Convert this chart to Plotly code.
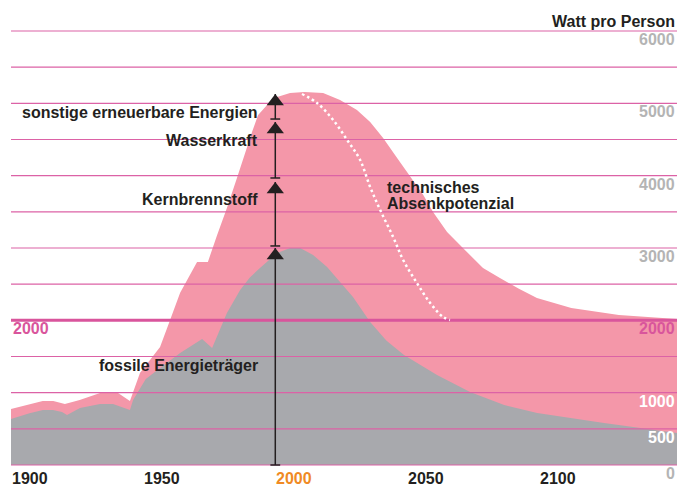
import plotly.graph_objects as go

# ---------------- data ----------------
total_years = [1893, 1905, 1909, 1913.4, 1919, 1921, 1926.7, 1933.5, 1938, 1941.8, 1949.4, 1953.2,
               1957, 1963.4, 1967.5, 1971.0, 1974.7, 1978.5, 1981.6, 1984.2, 1986.5, 1989.9,
               1993.7, 1998.6, 2004, 2011.1, 2017.5, 2023.9, 2028.9, 2033.8, 2039.1, 2044.1,
               2049.0, 2052.7, 2058.0, 2064.0, 2071.6, 2078.0, 2085, 2092, 2105, 2123, 2145]
total_values = [774, 885, 885, 843, 900, 926, 995, 995, 885, 1272, 1631, 2005,
                2380, 2807, 2807, 3180, 3553, 3968, 4327, 4604, 4839, 4977,
                5088, 5143, 5155, 5143, 5046, 4908, 4742, 4521, 4244, 3982,
                3733, 3498, 3221, 3000, 2723, 2585, 2440, 2309, 2170, 2074, 2018]

fossil_years = [1893, 1900, 1905.1, 1908.9, 1912.3, 1914.2, 1919.1, 1924, 1926.7, 1931.6, 1938,
                1939.2, 1944, 1949.4, 1957, 1965.3, 1969.1, 1974.7, 1979.7, 1983.3, 1987.2,
                1993.7, 1998.6, 2002.4, 2007.3, 2012.6, 2017.5, 2022.4, 2028.9, 2035, 2041.7,
                2054.2, 2066.7, 2079.6, 2092.1, 2117.4, 2145]
fossil_values = [636, 716, 760, 760, 733, 691, 788, 830, 843, 843, 760,
                 900, 1190, 1341, 1548, 1742, 1617, 2101, 2419, 2590, 2724,
                 2931, 3000, 3000, 2903, 2737, 2530, 2323, 1977, 1720, 1521,
                 1244, 1009, 830, 719, 581, 442]

potential_years = [2003.1, 2008.8, 2014.9, 2020.2, 2025.1, 2028.9, 2032.7, 2037.6, 2041.4,
                   2046.6, 2051.6, 2056.5, 2059.1]
potential_values = [5129, 5005, 4770, 4493, 4217, 3843, 3525, 3152, 2834,
                    2516, 2240, 2046, 2005]

arrow_year = 1993
arrow_labels = ["fossile Energieträger", "Kernbrennstoff", "Wasserkraft",
                "sonstige erneuerbare Energien"]
arrow_bottom = [0, 3028, 3968, 4783]
arrow_top = [3000, 3912, 4742, 5129]
arrow_label_values = [1369, 3677, 4493, 4880]

x_tick_years = [1900, 1950, 2000, 2050, 2100]
y_grid_values = [0, 500, 1000, 1500, 2000, 2500, 3000, 3500, 4000, 4500, 5000, 5500, 6000]
y_label_values = [6000, 5000, 4000, 3000, 2000, 1000, 500, 0]

# ---------------- styling ----------------
W, H = 677, 486
X_MIN, X_MAX = 1893, 2145
PX_PER_W = 434 / 6000.0
PAD_PX = 5
Y_MIN, Y_MAX = -PAD_PX / PX_PER_W, 6000 + PAD_PX / PX_PER_W

PINK = "#f497a9"
GRAY = "#a8a9ad"
GRID = "#dc62a6"
MAGENTA = "#d9559c"
DARK = "#231f20"
LABEL_GRAY = "#b4b4b4"
ORANGE = "#f08a24"
FONT = "Liberation Sans, Arial, sans-serif"

fig = go.Figure()

# areas
fig.add_trace(go.Scatter(x=total_years, y=total_values, mode="lines", fill="tozeroy",
                         fillcolor=PINK, line=dict(width=0, color=PINK), hoverinfo="skip"))
fig.add_trace(go.Scatter(x=fossil_years, y=fossil_values, mode="lines", fill="tozeroy",
                         fillcolor=GRAY, line=dict(width=0, color=GRAY), hoverinfo="skip"))

# grid lines (drawn over the areas)
gx, gy = [], []
for v in y_grid_values:
    if v == 2000:
        continue
    gx += [X_MIN, X_MAX, None]
    gy += [v, v, None]
fig.add_trace(go.Scatter(x=gx, y=gy, mode="lines", line=dict(color=GRID, width=1.1),
                         hoverinfo="skip"))
fig.add_trace(go.Scatter(x=[X_MIN, X_MAX], y=[2000, 2000], mode="lines",
                         line=dict(color=MAGENTA, width=3), hoverinfo="skip"))

# dotted potential line
fig.add_trace(go.Scatter(x=potential_years, y=potential_values, mode="lines",
                         line=dict(color="white", width=2.5, dash="2.5px,3px", shape="spline"),
                         hoverinfo="skip"))

# arrows
ax, ay = [], []
for b, t in zip(arrow_bottom, arrow_top):
    ax += [arrow_year, arrow_year, None]
    ay += [b, t, None]
fig.add_trace(go.Scatter(x=ax, y=ay, mode="lines", line=dict(color=DARK, width=1.5),
                         hoverinfo="skip"))
fig.add_trace(go.Scatter(x=[arrow_year] * len(arrow_bottom), y=arrow_bottom, mode="markers",
                         marker=dict(symbol="line-ew", size=7,
                                     line=dict(color=DARK, width=1.5)),
                         hoverinfo="skip", cliponaxis=False))
TRI = 15
fig.add_trace(go.Scatter(x=[arrow_year] * len(arrow_top),
                         y=[t - (TRI / 2) / PX_PER_W for t in arrow_top], mode="markers",
                         marker=dict(symbol="triangle-up", size=TRI, color=DARK,
                                     line=dict(width=0)),
                         hoverinfo="skip", cliponaxis=False))

annotations = []
# arrow labels
for lab, v in zip(arrow_labels, arrow_label_values):
    annotations.append(dict(x=1987.3, y=v, xref="x", yref="y", text=lab, showarrow=False,
                            xanchor="right", yanchor="middle",
                            font=dict(family=FONT, size=16, color=DARK, weight="bold")))
annotations.append(dict(x=2034.4, y=3830, xref="x", yref="y", text="technisches",
                        showarrow=False, xanchor="left", yanchor="middle",
                        font=dict(family=FONT, size=16, color=DARK, weight="bold")))
annotations.append(dict(x=2034.4, y=3622, xref="x", yref="y", text="Absenkpotenzial",
                        showarrow=False, xanchor="left", yanchor="middle",
                        font=dict(family=FONT, size=16, color=DARK, weight="bold")))

# x tick labels
for yr in x_tick_years:
    annotations.append(dict(x=yr, y=0, xref="x", yref="y", text=str(yr), showarrow=False,
                            xanchor="center", yanchor="middle", yshift=-13,
                            font=dict(family=FONT, size=16,
                                      color=ORANGE if yr == 2000 else DARK, weight="bold")))

# y labels at right
for v in y_label_values:
    if v == 2000:
        c = MAGENTA
    elif v in (1000, 500):
        c = "white"
    else:
        c = LABEL_GRAY
    annotations.append(dict(x=1, y=v, xref="paper", yref="y", text=str(v), showarrow=False,
                            xanchor="right", yanchor="middle", yshift=-8.5,
                            font=dict(family=FONT, size=16, color=c, weight="bold")))
annotations.append(dict(x=0, y=2000, xref="paper", yref="y", text="2000", showarrow=False,
                        xanchor="left", yanchor="middle", yshift=-8.5, xshift=0,
                        font=dict(family=FONT, size=16, color=MAGENTA, weight="bold")))
annotations.append(dict(x=1, y=6000, xref="paper", yref="y", text="Watt pro Person",
                        showarrow=False, xanchor="right", yanchor="middle", yshift=9.5,
                        font=dict(family=FONT, size=16, color=DARK, weight="bold")))

fig.update_layout(
    width=W, height=H,
    margin=dict(l=11, r=0, t=31 - PAD_PX, b=21 - PAD_PX),
    paper_bgcolor="white", plot_bgcolor="white",
    showlegend=False,
    xaxis=dict(range=[X_MIN, X_MAX], visible=False, fixedrange=True),
    yaxis=dict(range=[Y_MIN, Y_MAX], visible=False, fixedrange=True),
    annotations=annotations,
)

fig.write_html(
    "out.html",
    config={"displayModeBar": False},
    post_script="document.body.style.margin='0';document.body.style.padding='0';"
                "document.body.style.overflow='hidden';",
)
